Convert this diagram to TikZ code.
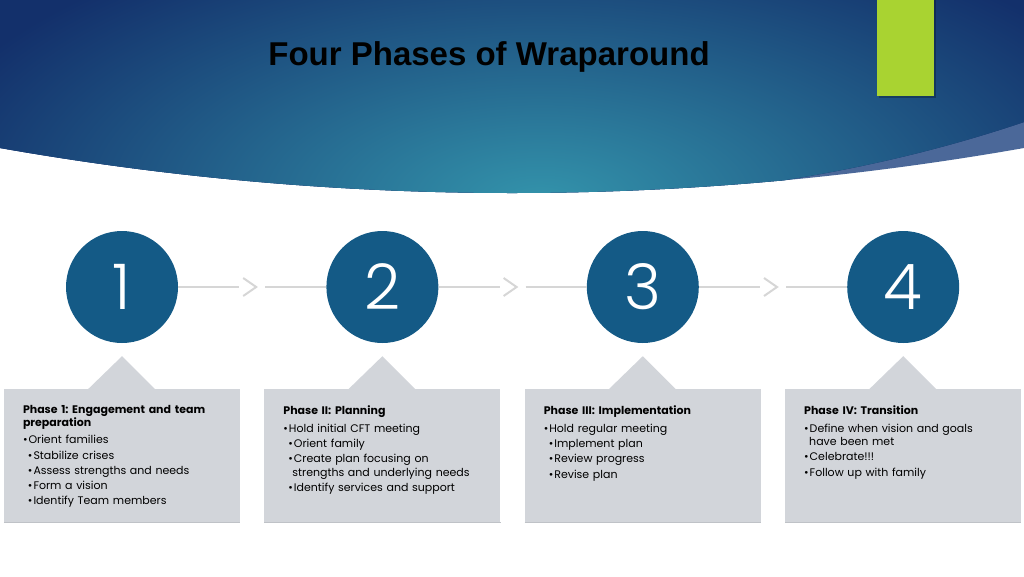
\documentclass[tikz,border=0pt]{standalone}
\usepackage{fontspec}
\setmainfont{Poppins}
\newfontfamily\titlefont{Liberation Sans}
\newfontfamily\numfont{Poppins Light}
\usetikzlibrary{positioning}

\definecolor{navy}{HTML}{13306B}
\definecolor{teal}{HTML}{3393AB}
\definecolor{band}{HTML}{4B6899}
\definecolor{limebar}{HTML}{A9D331}
\definecolor{circblue}{HTML}{145A86}
\definecolor{cardgray}{HTML}{D2D5DA}
\definecolor{cardedge}{HTML}{BFC2C7}
\definecolor{linkgray}{HTML}{D6D6D6}

\newcommand{\bul}{\textbullet\hspace{1pt}}
\frenchspacing

\begin{document}
\begin{tikzpicture}%
  [x=1pt,y=-1pt,
   phase/.style=
    {circle,fill=circblue,minimum size=112pt,inner sep=0pt,text=white,
     font=\numfont\fontsize{63}{63}\selectfont},
   card/.style=
    {fill=cardgray,minimum width=236pt,minimum height=133pt,inner sep=0pt},
   cardtext/.style=
    {anchor=north west,inner sep=0pt,align=left,text width=215pt,
     font=\fontsize{11}{15.2}\selectfont},
   link/.style={line width=1.5pt,draw=linkgray},
   chevron/.style={line width=2pt,draw=linkgray},
   greenbar/.style={fill=limebar,minimum width=57pt,minimum height=96pt,inner sep=0pt}
  ]
  \useasboundingbox (0,0) rectangle (1024,576);

  % banner
  \begin{scope}
    \clip (0,0) -- (1024,0) -- (1024,148) .. controls (683,208) and (341,208) .. (0,148) -- cycle;
    \fill[band] (0,0) rectangle (1024,240);
    \clip (0,0) -- (1024,0) -- (1024,122) .. controls (720,225) and (341,225) .. (0,148) -- cycle;
    \fill[navy] (0,0) rectangle (1024,240);
    \shade[inner color=teal,outer color=navy] (540,200) ellipse [x radius=640,y radius=290];
  \end{scope}
  \fill[black,opacity=0.25] (879,0) rectangle (936,98);
  \node[greenbar,anchor=north west] (bar) at (877,0) {};
  \node[font=\titlefont\bfseries\fontsize{33}{33}\selectfont] (title) at (489,57) {Four Phases of Wraparound};

  % phases
  \node[phase] (c1) at (122,287) {1};
  \node[phase,right=148pt of c1] (c2) {2};
  \node[phase,right=148pt of c2] (c3) {3};
  \node[phase,right=148pt of c3] (c4) {4};
  \foreach \a/\b in {1/2,2/3,3/4}{
    \path (c\a.east) -- coordinate(m\a) (c\b.west);
    \draw[link] (c\a.east) -- ([xshift=-13pt]m\a);
    \draw[link] ([xshift=13pt]m\a) -- (c\b.west);
    \draw[chevron] ([xshift=-9pt,yshift=9pt]m\a) -- ([xshift=4pt]m\a) -- ([xshift=-9pt,yshift=-9pt]m\a);
  }

  % cards
  \foreach \i in {1,...,4}{
    \node[card,below=46pt of c\i] (b\i) {};
    \fill[cardgray] ([xshift=-34pt]b\i.north) -- ([yshift=33pt]b\i.north) -- ([xshift=33pt]b\i.north) -- cycle;
    \draw[cardedge,line width=1.5pt] (b\i.south west) -- (b\i.south east);
  }
  \node[cardtext] (t1) at ([xshift=19pt,yshift=-16pt]b1.north west)
    {\textbf{Phase 1: Engagement and team}\\[-2pt]
     \textbf{preparation}\\[2pt]
     \bul Orient families\\
     \hspace*{5pt}\bul Stabilize crises\\
     \hspace*{5pt}\bul Assess strengths and needs\\
     \hspace*{5pt}\bul Form a vision\\
     \hspace*{5pt}\bul Identify Team members};
  \node[cardtext] (t2) at ([xshift=19pt,yshift=-16pt]b2.north west)
    {\textbf{Phase II: Planning}\\[3pt]
     \bul Hold initial CFT meeting\\
     \hspace*{5pt}\bul Orient family\\
     \hspace*{5pt}\bul Create plan focusing on\\[-2pt]
     \hspace*{9pt}strengths and underlying needs\\
     \hspace*{5pt}\bul Identify services and support};
  \node[cardtext] (t3) at ([xshift=19pt,yshift=-16pt]b3.north west)
    {\textbf{Phase III: Implementation}\\[3pt]
     \bul Hold regular meeting\\
     \hspace*{5pt}\bul Implement plan\\
     \hspace*{5pt}\bul Review progress\\
     \hspace*{5pt}\bul Revise plan};
  \node[cardtext] (t4) at ([xshift=19pt,yshift=-16pt]b4.north west)
    {\textbf{Phase IV: Transition}\\[3pt]
     \bul Define when vision and goals\\[-2pt]
     \hspace*{5pt}have been met\\
     \bul Celebrate!!!\\
     \bul Follow up with family};

\end{tikzpicture}
\end{document}
